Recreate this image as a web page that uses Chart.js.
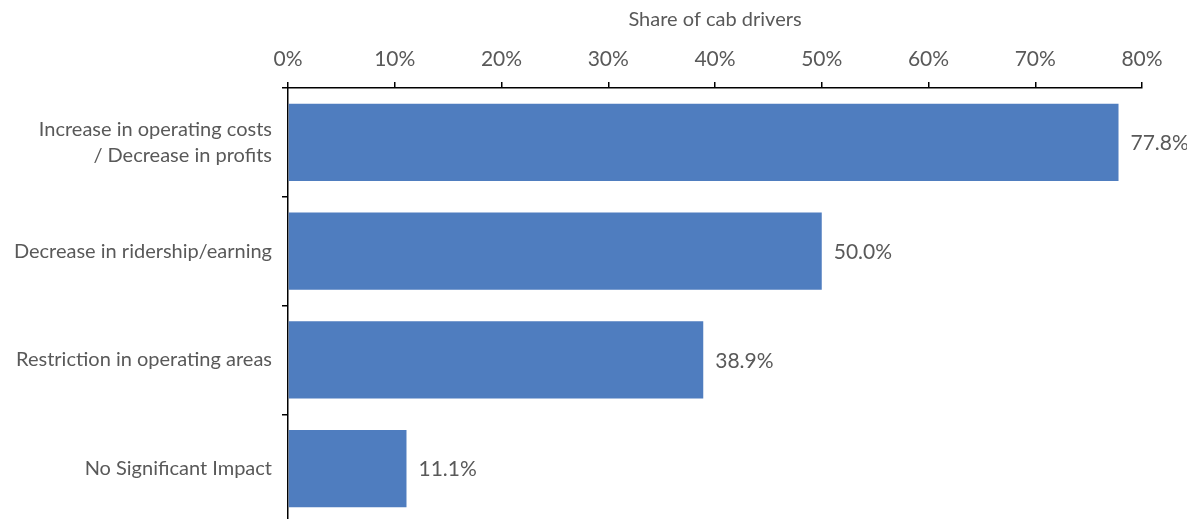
<!DOCTYPE html>
<html>
<head>
<meta charset="utf-8">
<script src="https://cdn.jsdelivr.net/npm/chart.js@4.4.1/dist/chart.umd.min.js"></script>
<style>
  html, body { margin: 0; padding: 0; background: #fff; overflow: hidden; }
  #wrap { width: 1187px; height: 519px; overflow: hidden; }
</style>
</head>
<body>
<div id="wrap"><canvas id="impactChart" width="1187" height="523"></canvas></div>
<script>
// data
const categories = [
  ['Increase in operating costs', '/ Decrease in profits'],
  'Decrease in ridership/earning',
  'Restriction in operating areas',
  'No Significant Impact'
];
const shares = [77.8, 50.0, 38.9, 11.1];
const xTicks = [0, 10, 20, 30, 40, 50, 60, 70, 80];

const textColor = '#595959';
const fontFamily = 'Lato, "Open Sans", sans-serif';

// value labels at the end of each bar
const barLabels = {
  id: 'barLabels',
  afterDatasetsDraw(chart) {
    const ctx = chart.ctx;
    const meta = chart.getDatasetMeta(0);
    ctx.save();
    ctx.font = '21px ' + fontFamily;
    ctx.fillStyle = textColor;
    ctx.textAlign = 'left';
    ctx.textBaseline = 'middle';
    meta.data.forEach(function(bar, i) {
      ctx.fillText(shares[i].toFixed(1) + '%', bar.x + 12, bar.y + 1);
    });
    ctx.restore();
  }
};

const ctx = document.getElementById('impactChart').getContext('2d');
new Chart(ctx, {
  type: 'bar',
  data: {
    labels: categories,
    datasets: [{
      label: 'Share of cab drivers',
      data: shares,
      backgroundColor: '#4f7dbf',
      borderWidth: 0,
      barPercentage: 1,
      categoryPercentage: 0.71
    }]
  },
  options: {
    indexAxis: 'y',
    responsive: false,
    animation: false,
    layout: { padding: { left: 0, right: 45, top: 0, bottom: 0 } },
    plugins: {
      legend: { display: false },
      tooltip: { enabled: false }
    },
    scales: {
      x: {
        position: 'top',
        min: 0,
        max: 80,
        afterBuildTicks: function(axis) {
          axis.ticks = xTicks.map(function(v) { return { value: v }; });
        },
        afterFit: function(axis) {
          axis.height = 88;
          axis.paddingLeft = 0;
          axis.paddingRight = 0;
        },
        title: {
          display: true,
          text: 'Share of cab drivers',
          color: textColor,
          font: { family: fontFamily, size: 20 },
          padding: { top: 8, bottom: 4 }
        },
        ticks: {
          color: textColor,
          font: { family: fontFamily, size: 21 },
          padding: 10,
          maxRotation: 0,
          callback: function(v) { return v + '%'; }
        },
        grid: {
          drawOnChartArea: false,
          color: '#000',
          tickLength: 6,
          lineWidth: 1.5
        },
        border: { color: '#000', width: 1.5 }
      },
      y: {
        afterFit: function(axis) {
          axis.width = 288;
          axis.paddingTop = 0;
          axis.paddingBottom = 0;
        },
        ticks: {
          color: textColor,
          font: { family: fontFamily, size: 20, lineHeight: 1.3 },
          padding: 10
        },
        grid: {
          drawOnChartArea: false,
          color: '#000',
          tickLength: 6,
          lineWidth: 1.5
        },
        border: { color: '#000', width: 1.5 }
      }
    }
  },
  plugins: [barLabels]
});
</script>
</body>
</html>
